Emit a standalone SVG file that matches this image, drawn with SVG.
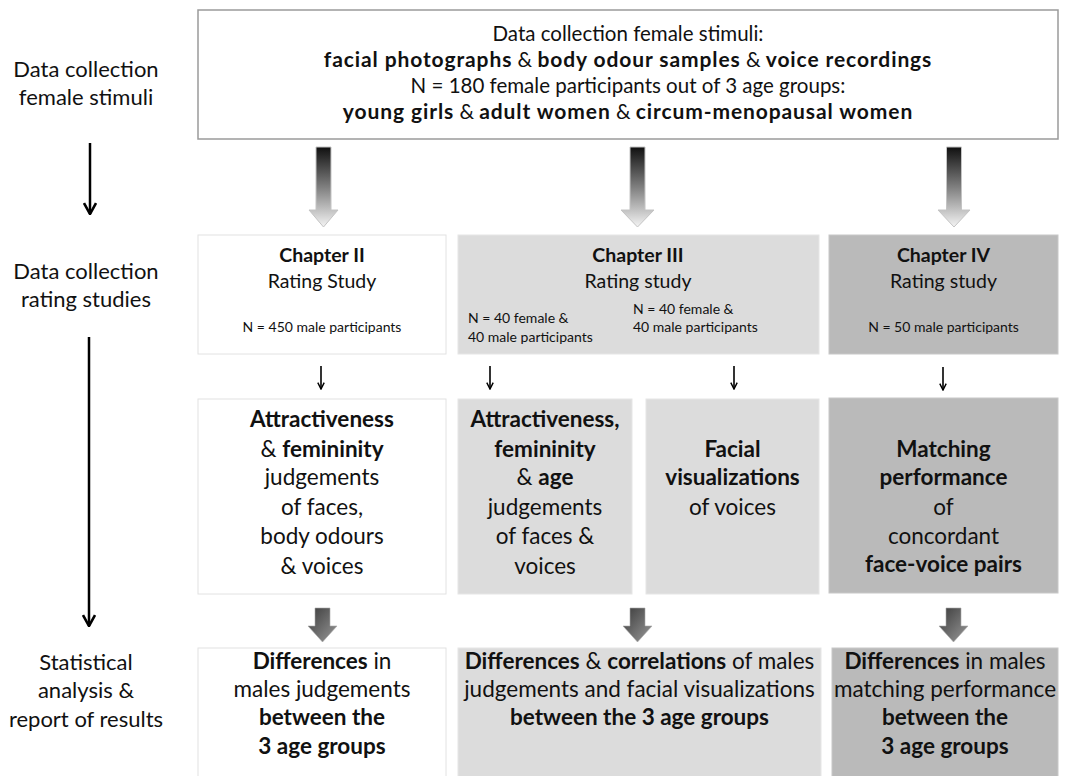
<svg xmlns="http://www.w3.org/2000/svg" width="1074" height="776" viewBox="0 0 1074 776">
<defs>
<linearGradient id="gBig" x1="0" y1="0" x2="0" y2="1">
<stop offset="0" stop-color="#101010"/>
<stop offset="0.55" stop-color="#8a8a8a"/>
<stop offset="1" stop-color="#f4f4f4"/>
</linearGradient>
<linearGradient id="gSmall" x1="0" y1="0" x2="1" y2="1">
<stop offset="0" stop-color="#3a3a3a"/>
<stop offset="0.5" stop-color="#6a6a6a"/>
<stop offset="1" stop-color="#9a9a9a"/>
</linearGradient>
<marker id="headS" viewBox="0 0 10 10" refX="9" refY="5" markerWidth="8" markerHeight="8" markerUnits="userSpaceOnUse" orient="auto">
<polyline points="1,1 9,5 1,9" fill="none" stroke="#000" stroke-width="1.8"/>
</marker>
<marker id="headB" viewBox="0 0 14 14" refX="13" refY="7" markerWidth="14" markerHeight="14" markerUnits="userSpaceOnUse" orient="auto">
<polyline points="2,1 13,7 2,13" fill="none" stroke="#000" stroke-width="2.6"/>
</marker>
</defs>
<style>
text { font-family: Lato, "Liberation Sans", sans-serif; fill: #111; }
.lbl { font-size: 22px; text-anchor: middle; }
.top { font-size: 20.5px; text-anchor: middle; }
.tb { font-weight: bold; font-size: 21px; letter-spacing: 0.9px; }
.b { font-weight: bold; }
.ch { font-size: 19.5px; text-anchor: middle; }
.sm { font-size: 14px; }
.smc { font-size: 14px; text-anchor: middle; }
.big { font-size: 22.5px; text-anchor: middle; }
.white { fill: #ffffff; stroke: #e2e2e2; stroke-width: 1; }
.lg { fill: #dcdcdc; stroke: #e6e6e6; stroke-width: 1; }
.dg { fill: #bababa; stroke: #c8c8c8; stroke-width: 1; }
.garrow { fill: url(#gBig); stroke: #c4c4c4; stroke-width: 1; }
.sarrow { fill: url(#gSmall); stroke: #aaaaaa; stroke-width: 0.6; }
.conL { stroke: #000; stroke-width: 2.5; fill: none; }
.conS { stroke: #000; stroke-width: 1.6; fill: none; }
</style>

<g id="labels">
<text class="lbl" x="86" y="77">Data collection</text>
<text class="lbl" x="86" y="105">female stimuli</text>
<text class="lbl" x="86" y="279">Data collection</text>
<text class="lbl" x="86" y="307">rating studies</text>
<text class="lbl" x="86" y="670">Statistical</text>
<text class="lbl" x="86" y="698">analysis &amp;</text>
<text class="lbl" x="86" y="727">report of results</text>
</g>

<g id="connectors">
<line class="conL" x1="90" y1="143" x2="90" y2="214" marker-end="url(#headB)"/>
<line class="conL" x1="89" y1="337" x2="89" y2="626" marker-end="url(#headB)"/>
<line class="conS" x1="321" y1="366" x2="321" y2="389" marker-end="url(#headS)"/>
<line class="conS" x1="490" y1="366" x2="490" y2="389" marker-end="url(#headS)"/>
<line class="conS" x1="734" y1="366" x2="734" y2="389" marker-end="url(#headS)"/>
<line class="conS" x1="943" y1="367" x2="943" y2="390" marker-end="url(#headS)"/>
<path class="garrow" d="M316,147 H331 V210 H338 L323.5,227 L309,210 H316 Z"/>
<path class="garrow" d="M630,147 H645 V210 H654 L637.5,227 L621,210 H630 Z"/>
<path class="garrow" d="M946.5,147 H961.5 V210 H970 L954,227 L938,210 H946.5 Z"/>
<path class="sarrow" d="M315,608 H330 V626 H337 L322.5,642 L308,626 H315 Z"/>
<path class="sarrow" d="M630,608 H645 V626 H652 L637.5,642 L623,626 H630 Z"/>
<path class="sarrow" d="M946,608 H961 V626 H968 L953.5,642 L939,626 H946 Z"/>
</g>

<g id="node-top">
<rect x="198" y="10" width="860" height="129" fill="#fff" stroke="#9a9a9a" stroke-width="1.5"/>
<text class="top" x="628" y="41">Data collection female stimuli:</text>
<text class="top" x="628" y="67"><tspan class="tb">facial photographs</tspan> &amp; <tspan class="tb">body odour samples</tspan> &amp; <tspan class="tb">voice recordings</tspan></text>
<text class="top" x="628" y="93">N = 180 female participants out of 3 age groups:</text>
<text class="top" x="628" y="119"><tspan class="tb">young girls</tspan> &amp; <tspan class="tb">adult women</tspan> &amp; <tspan class="tb">circum-menopausal women</tspan></text>
</g>

<g id="node-ch2-study">
<rect class="white" x="198" y="235" width="248" height="119"/>
<text class="ch b" x="322" y="262">Chapter II</text>
<text class="ch" x="322" y="288">Rating Study</text>
<text class="smc" x="322" y="332">N = 450 male participants</text>
</g>

<g id="node-ch3-study">
<rect class="lg" x="458" y="235" width="361" height="119"/>
<text class="ch b" x="638" y="262">Chapter III</text>
<text class="ch" x="638" y="288">Rating study</text>
<text class="sm" x="468" y="323">N = 40 female &amp;</text>
<text class="sm" x="468" y="342"> 40 male participants</text>
<text class="sm" x="633" y="314">N = 40 female &amp;</text>
<text class="sm" x="633" y="332">40 male participants</text>
</g>

<g id="node-ch4-study">
<rect class="dg" x="829" y="235" width="229" height="119"/>
<text class="ch b" x="943.5" y="262">Chapter IV</text>
<text class="ch" x="943.5" y="288">Rating study</text>
<text class="smc" x="943.5" y="332">N = 50 male participants</text>
</g>

<g id="node-ch2-judgements">
<rect class="white" x="198" y="399" width="248" height="195"/>
<text class="big b" x="322" y="427">Attractiveness</text>
<text class="big" x="322" y="457">&amp; <tspan class="b">femininity</tspan></text>
<text class="big" x="322" y="485">judgements</text>
<text class="big" x="322" y="515">of faces,</text>
<text class="big" x="322" y="544">body odours</text>
<text class="big" x="322" y="574">&amp; voices</text>
</g>

<g id="node-ch3-judgements">
<rect class="lg" x="458" y="399" width="174" height="195"/>
<text class="big b" x="545" y="427">Attractiveness,</text>
<text class="big b" x="545" y="457">femininity</text>
<text class="big" x="545" y="485">&amp; <tspan class="b">age</tspan></text>
<text class="big" x="545" y="515">judgements</text>
<text class="big" x="545" y="544">of faces &amp;</text>
<text class="big" x="545" y="574">voices</text>
</g>

<g id="node-ch3-visualizations">
<rect class="lg" x="646" y="399" width="173" height="195"/>
<text class="big b" x="732.5" y="457">Facial</text>
<text class="big b" x="732.5" y="485">visualizations</text>
<text class="big" x="732.5" y="515">of voices</text>
</g>

<g id="node-ch4-matching">
<rect class="dg" x="829" y="398" width="229" height="195"/>
<text class="big b" x="943.5" y="457">Matching</text>
<text class="big b" x="943.5" y="485">performance</text>
<text class="big" x="943.5" y="515">of</text>
<text class="big" x="943.5" y="544">concordant</text>
<text class="big b" x="943.5" y="572">face-voice pairs</text>
</g>

<g id="node-ch2-results">
<rect class="white" x="198" y="648" width="248" height="140"/>
<text class="big" x="322" y="669"><tspan class="b">Differences</tspan> in</text>
<text class="big" x="322" y="697">males judgements</text>
<text class="big b" x="322" y="725">between the</text>
<text class="big b" x="322" y="754">3 age groups</text>
</g>

<g id="node-ch3-results">
<rect class="lg" x="458" y="648" width="363" height="140"/>
<text class="big" x="639.5" y="669"><tspan class="b">Differences</tspan> &amp; <tspan class="b">correlations</tspan>  of males</text>
<text class="big" x="639.5" y="697">judgements and facial visualizations</text>
<text class="big b" x="639.5" y="725">between the 3 age groups</text>
</g>

<g id="node-ch4-results">
<rect class="dg" x="832" y="648" width="226" height="140"/>
<text class="big" x="945" y="669"><tspan class="b">Differences</tspan> in males</text>
<text class="big" x="945" y="697">matching performance</text>
<text class="big b" x="945" y="725">between the</text>
<text class="big b" x="945" y="754">3 age groups</text>
</g>
</svg>
